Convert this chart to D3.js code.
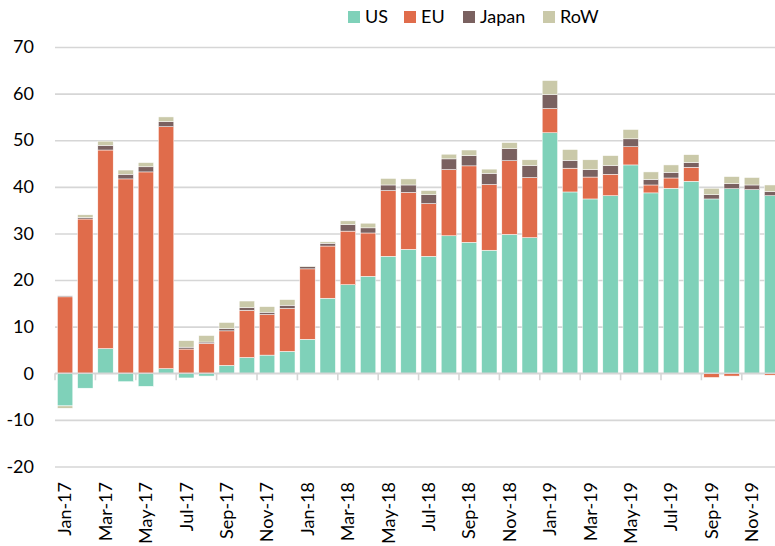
<!DOCTYPE html>
<html>
<head>
<meta charset="utf-8">
<script src="https://cdn.jsdelivr.net/npm/d3@7"></script>
<style>
  html, body { margin: 0; padding: 0; background: #fff; overflow: hidden; }
  svg { display: block; font-family: Lato, "Noto Sans", sans-serif; }
</style>
</head>
<body>
<div id="chart"></div>
<script>
'use strict';

var months = [
  'Jan-17', 'Feb-17', 'Mar-17', 'Apr-17', 'May-17', 'Jun-17', 'Jul-17', 'Aug-17', 'Sep-17', 'Oct-17', 'Nov-17', 'Dec-17',
  'Jan-18', 'Feb-18', 'Mar-18', 'Apr-18', 'May-18', 'Jun-18', 'Jul-18', 'Aug-18', 'Sep-18', 'Oct-18', 'Nov-18', 'Dec-18',
  'Jan-19', 'Feb-19', 'Mar-19', 'Apr-19', 'May-19', 'Jun-19', 'Jul-19', 'Aug-19', 'Sep-19', 'Oct-19', 'Nov-19', 'Dec-19'
];

var us = [
  -7.0, -3.2, 5.3, -1.8, -2.8, 1.0, -1.0, -0.6, 1.7, 3.4, 3.9, 4.7,
  7.3, 16.1, 19.0, 20.8, 25.1, 26.6, 25.1, 29.5, 28.1, 26.4, 29.8, 29.1,
  51.6, 38.9, 37.4, 38.1, 44.7, 38.7, 39.7, 41.2, 37.4, 39.6, 39.4, 38.1
];
var eu = [
  16.4, 33.1, 42.6, 41.7, 43.2, 51.9, 5.2, 6.4, 7.4, 10.1, 8.7, 9.2,
  15.1, 11.2, 11.5, 9.3, 14.1, 12.2, 11.3, 14.2, 16.4, 14.1, 15.8, 12.9,
  5.2, 5.1, 4.7, 4.6, 3.9, 1.7, 2.2, 3.0, -0.9, -0.6, -0.1, -0.4
];
var japan = [
  0.2, 0.3, 1.0, 1.0, 1.1, 1.1, 0.4, 0.3, 0.5, 0.6, 0.5, 0.7,
  0.5, 0.6, 1.4, 1.1, 1.2, 1.6, 1.9, 2.3, 2.2, 2.4, 2.6, 2.6,
  3.0, 1.7, 1.6, 1.9, 1.7, 1.2, 1.2, 1.0, 0.9, 1.1, 1.0, 0.9
];
var row = [
  -0.5, 0.6, 0.9, 0.9, 0.9, 1.0, 1.4, 1.4, 1.3, 1.4, 1.2, 1.2,
  0.1, 0.3, 0.8, 1.0, 1.4, 1.3, 0.9, 1.0, 1.2, 0.9, 1.3, 1.2,
  3.0, 2.3, 2.1, 2.1, 2.0, 1.6, 1.6, 1.7, 1.4, 1.5, 1.6, 1.4
];

var seriesNames = ['US', 'EU', 'Japan', 'RoW'];
var seriesColors = ['#7fd1b9', '#e06c4b', '#7a6160', '#cac9a9'];
var yTicks = [-20, -10, 0, 10, 20, 30, 40, 50, 60, 70];

var width = 775, height = 546;
var left = 55, step = 20.2;

// table for d3.stack
var table = months.map(function(m, i) {
  return { month: m, US: us[i], EU: eu[i], Japan: japan[i], RoW: row[i] };
});

var stacked = d3.stack()
  .keys(seriesNames)
  .offset(d3.stackOffsetDiverging)(table);

var x = d3.scaleBand()
  .domain(months)
  .range([left, left + step * months.length])
  .paddingInner(0.238)
  .paddingOuter(0.119);

var y = d3.scaleLinear()
  .domain([-20, 70])
  .range([466.5, 47]);

var color = d3.scaleOrdinal()
  .domain(seriesNames)
  .range(seriesColors);

var svg = d3.select('#chart')
  .append('svg')
  .attr('width', width)
  .attr('height', height);

// gridlines + y labels (plain hyphen, like the original)
var yAxis = svg.append('g')
  .attr('transform', 'translate(' + left + ',0)')
  .call(d3.axisLeft(y)
    .tickValues(yTicks)
    .tickFormat(function(d) { return String(d); })
    .tickSize(-(width - left))
    .tickPadding(21));

yAxis.select('.domain').remove();
yAxis.selectAll('.tick line')
  .attr('stroke', '#d6d6d6')
  .attr('stroke-width', 1.6);
yAxis.selectAll('.tick text')
  .attr('fill', '#000')
  .style('font-size', '18px')
  .style('font-family', 'Lato, "Noto Sans", sans-serif');

// bars
svg.append('g')
  .selectAll('g')
  .data(stacked)
  .enter()
  .append('g')
  .attr('fill', function(d) { return color(d.key); })
  .selectAll('rect')
  .data(function(d) { return d; })
  .enter()
  .append('rect')
  .attr('x', function(d) { return x(d.data.month); })
  .attr('width', x.bandwidth())
  .attr('y', function(d) { return y(Math.max(d[0], d[1])); })
  .attr('height', function(d) { return Math.abs(y(d[0]) - y(d[1])); })
  .attr('stroke', '#fff')
  .attr('stroke-width', 0.5);

// zero line with ticks every two months
var xAxis = svg.append('g')
  .attr('transform', 'translate(0,' + y(0) + ')');

xAxis.append('line')
  .attr('x1', left)
  .attr('x2', width)
  .attr('stroke', '#d6d6d6')
  .attr('stroke-width', 1.6);

xAxis.selectAll('line.tk')
  .data(months.filter(function(m, i) { return i % 2 === 0; }))
  .enter()
  .append('line')
  .attr('class', 'tk')
  .attr('x1', function(d) { return x(d) - x.step() * x.paddingOuter(); })
  .attr('x2', function(d) { return x(d) - x.step() * x.paddingOuter(); })
  .attr('y1', 0)
  .attr('y2', 7)
  .attr('stroke', '#d6d6d6')
  .attr('stroke-width', 1.6);

// month labels, rotated
svg.append('g')
  .selectAll('text')
  .data(months.filter(function(m, i) { return i % 2 === 0; }))
  .enter()
  .append('text')
  .attr('transform', function(d) {
    return 'translate(' + (x(d) + x.bandwidth() / 2) + ',482) rotate(-90)';
  })
  .attr('text-anchor', 'end')
  .attr('dy', '0.35em')
  .style('font-size', '18px')
  .text(function(d) { return d; });

// legend
var legendX = [348, 404, 463, 543];
var legend = svg.append('g')
  .selectAll('g')
  .data(seriesNames)
  .enter()
  .append('g')
  .attr('transform', function(d, i) { return 'translate(' + legendX[i] + ',11)'; });

legend.append('rect')
  .attr('width', 12)
  .attr('height', 12)
  .attr('fill', function(d) { return color(d); });

legend.append('text')
  .attr('x', 17)
  .attr('y', 12)
  .style('font-size', '18px')
  .text(function(d) { return d; });
</script>
</body>
</html>
